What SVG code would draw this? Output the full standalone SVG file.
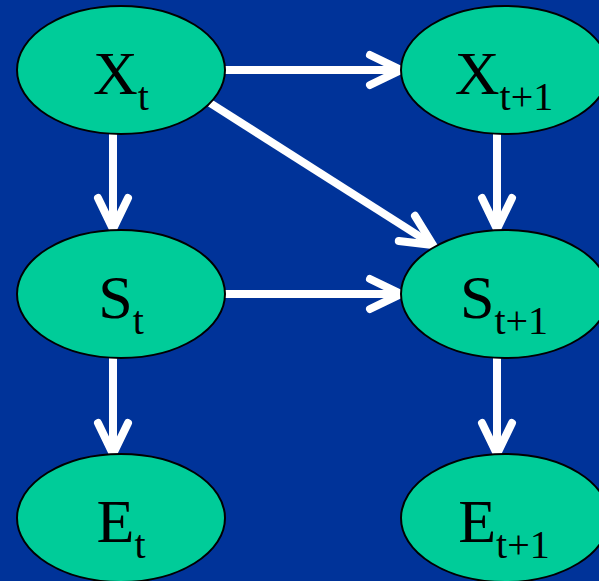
<svg xmlns="http://www.w3.org/2000/svg" width="599" height="581" viewBox="0 0 599 581">
<style>
.n{fill:#00CC99;stroke:#000;stroke-width:2}
.t{font-family:"Liberation Serif","Times New Roman",serif;font-size:62px;fill:#000;text-anchor:middle}
.s{font-size:40px}
.c{fill:none;stroke:#fff;stroke-width:8;stroke-linecap:round;stroke-linejoin:miter}
.l{fill:none;stroke:#fff;stroke-width:8;stroke-linecap:butt}
</style>
<rect width="599" height="581" fill="#003399"/>
<g id="connectors">
<path class="l" d="M225,70H398"/><path class="c" d="M370,55L401,70L370,85"/>
<path class="l" d="M210,103L430,243"/><path class="c" d="M398.8,241L433,245L415,215.8"/>
<path class="l" d="M113,134V226"/><path class="c" d="M98,198L113,229L128,198"/>
<path class="l" d="M497,134V226"/><path class="c" d="M482,198L497,229L512,198"/>
<path class="l" d="M225,294H398"/><path class="c" d="M370,279L401,294L370,309"/>
<path class="l" d="M113,358V451"/><path class="c" d="M98,423L113,454L128,423"/>
<path class="l" d="M497,358V451"/><path class="c" d="M482,423L497,454L512,423"/>
</g>
<g id="Xt"><ellipse class="n" cx="121" cy="70" rx="104" ry="64"/><text class="t" x="121" y="94">X<tspan class="s" dy="16">t</tspan></text></g>
<g id="Xt1"><ellipse class="n" cx="505" cy="70" rx="104" ry="64"/><text class="t" x="504" y="94">X<tspan class="s" dy="16">t+1</tspan></text></g>
<g id="St"><ellipse class="n" cx="121" cy="294" rx="104" ry="64"/><text class="t" x="121" y="318">S<tspan class="s" dy="16">t</tspan></text></g>
<g id="St1"><ellipse class="n" cx="505" cy="294" rx="104" ry="64"/><text class="t" x="504" y="318">S<tspan class="s" dy="16">t+1</tspan></text></g>
<g id="Et"><ellipse class="n" cx="121" cy="518" rx="104" ry="64"/><text class="t" x="121" y="542">E<tspan class="s" dy="16">t</tspan></text></g>
<g id="Et1"><ellipse class="n" cx="505" cy="518" rx="104" ry="64"/><text class="t" x="504" y="542">E<tspan class="s" dy="16">t+1</tspan></text></g>
</svg>
